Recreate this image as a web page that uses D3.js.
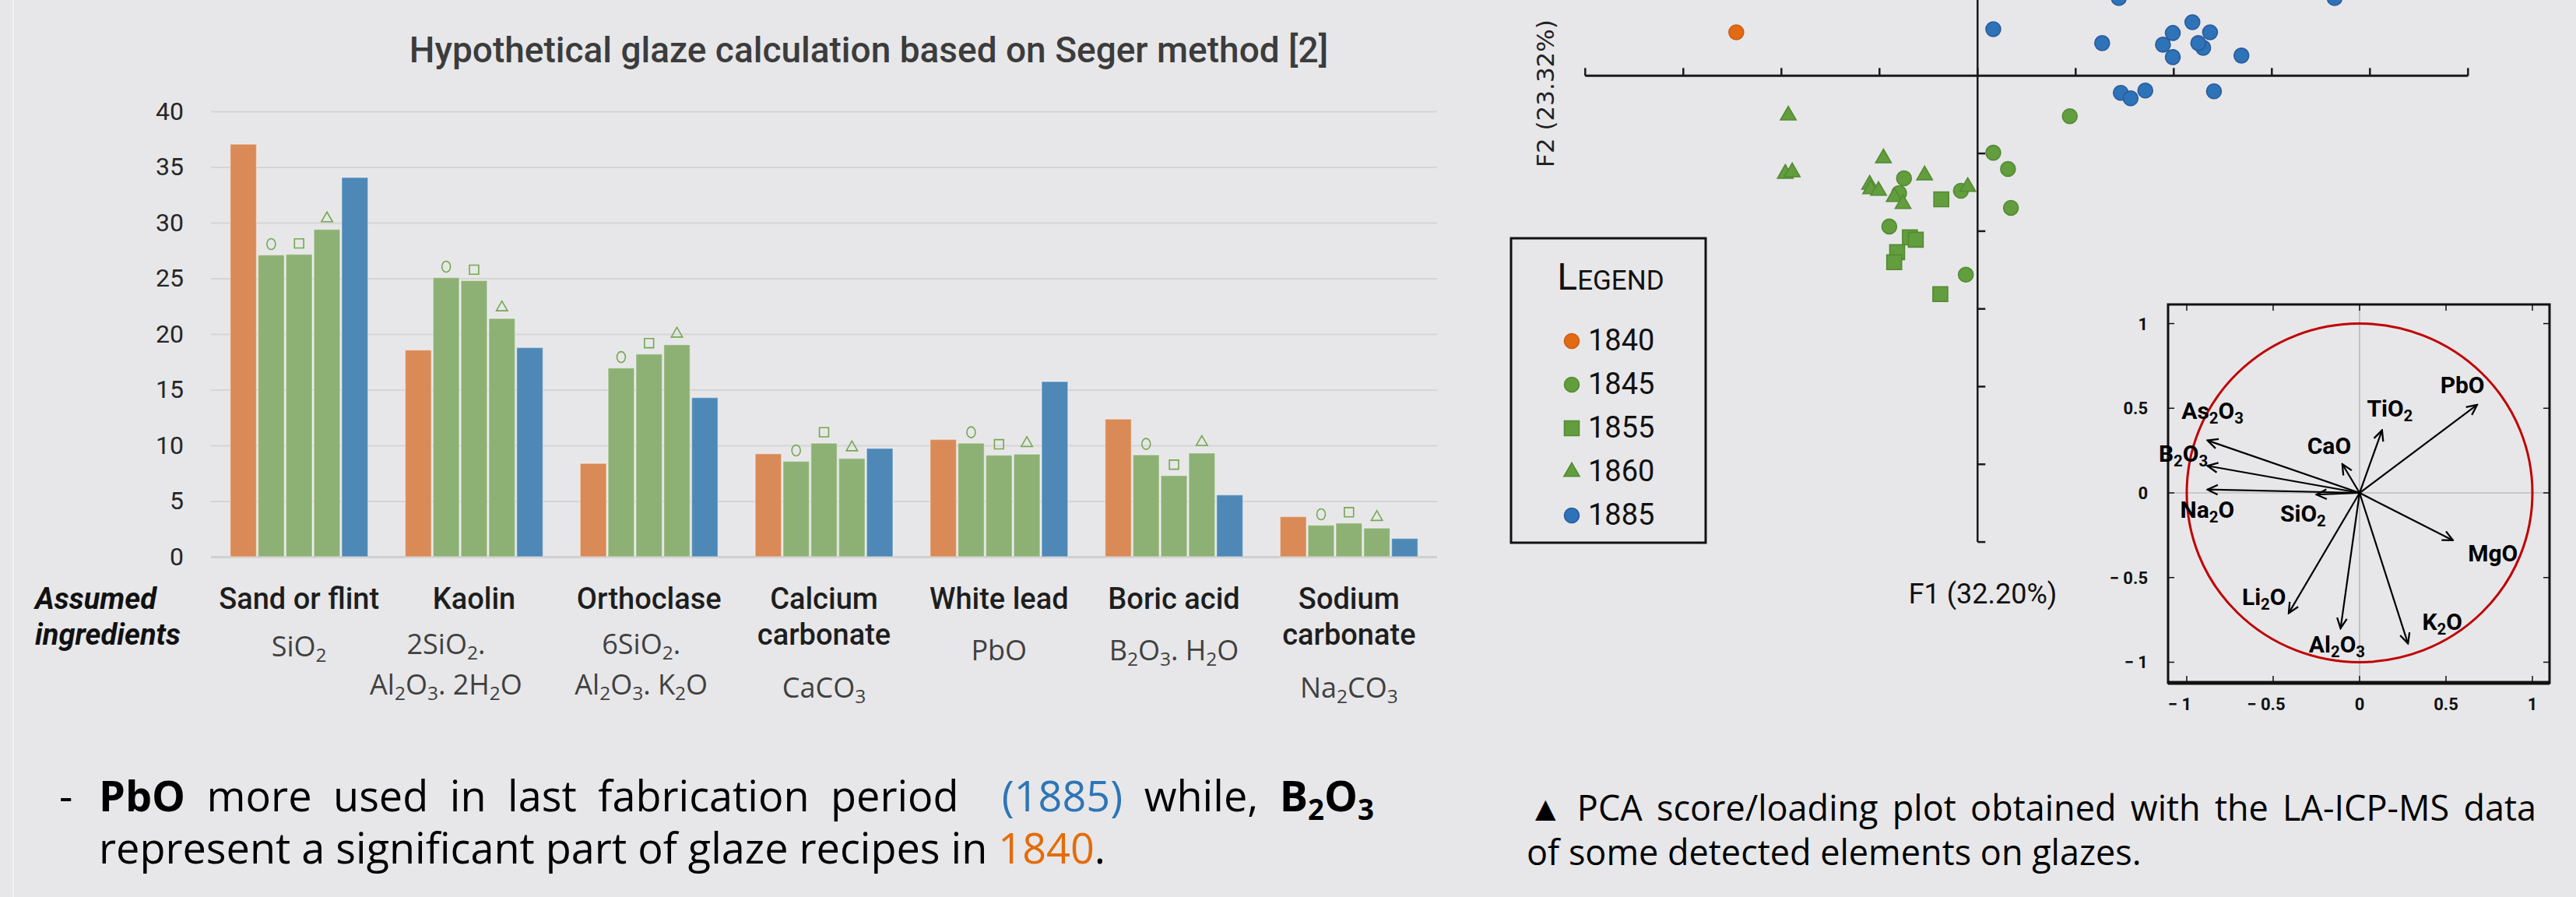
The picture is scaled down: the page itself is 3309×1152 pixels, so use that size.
<!DOCTYPE html>
<html>
<head>
<meta charset="utf-8">
<script src="https://cdn.jsdelivr.net/npm/d3@7"></script>
<style>
  body { margin: 0; background: #E7E7E9; }
  svg { display: block; }
</style>
</head>
<body>
<div id="chart"></div>
<script>
// ---- data: bar chart (Seger calculation) ----
var categories = ["Sand or flint", "Kaolin", "Orthoclase", "Calcium carbonate", "White lead", "Boric acid", "Sodium carbonate"];
var nameLines = [["Sand or flint"], ["Kaolin"], ["Orthoclase"], ["Calcium", "carbonate"], ["White lead"], ["Boric acid"], ["Sodium", "carbonate"]];
var formulas = [["SiO_2"], ["2SiO_2.", "Al_2O_3. 2H_2O"], ["6SiO_2.", "Al_2O_3. K_2O"], ["CaCO_3"], ["PbO"], ["B_2O_3. H_2O"], ["Na_2CO_3"]];
var years = ["1840", "1845", "1855", "1860", "1885"];
var v1840 = [37.05, 18.56, 8.38, 9.25, 10.53, 12.36, 3.6];
var v1845 = [27.1, 25.07, 16.95, 8.57, 10.2, 9.15, 2.83];
var v1855 = [27.16, 24.8, 18.2, 10.2, 9.12, 7.29, 3.02];
var v1860 = [29.4, 21.4, 19.04, 8.83, 9.21, 9.31, 2.57];
var v1885 = [34.06, 18.78, 14.29, 9.73, 15.73, 5.55, 1.64];
var yTicks = [0, 5, 10, 15, 20, 25, 30, 35, 40];

// ---- data: PCA scores (F1, F2) ----
var pts1840 = [[-2.46, 0.56]];
var pts1845 = [[0.94, -0.52], [0.16, -0.99], [0.31, -1.2], [-0.75, -1.32], [-0.8, -1.51], [-0.17, -1.48], [-0.9, -1.94], [0.34, -1.7], [-0.12, -2.56]];
var pts1855 = [[-0.37, -1.59], [-0.69, -2.08], [-0.63, -2.11], [-0.82, -2.27], [-0.85, -2.4], [-0.38, -2.81]];
var pts1860 = [[-1.93, -0.51], [-1.96, -1.26], [-1.89, -1.24], [-0.96, -1.06], [-0.54, -1.28], [-1.1, -1.4], [-1.09, -1.46], [-1.01, -1.48], [-0.85, -1.56], [-0.76, -1.65], [-0.1, -1.43]];
var pts1885 = [[0.16, 0.6], [1.44, 1.0], [3.64, 1.0], [1.27, 0.42], [1.99, 0.55], [2.19, 0.69], [2.37, 0.56], [1.89, 0.4], [1.99, 0.24], [2.3, 0.36], [2.25, 0.42], [2.69, 0.26], [1.46, -0.22], [1.56, -0.29], [1.71, -0.19], [2.41, -0.2]];

// ---- data: PCA loadings ----
var loadNames = ["PbO", "TiO_2", "CaO", "As_2O_3", "B_2O_3", "Na_2O", "SiO_2", "MgO", "Li_2O", "Al_2O_3", "K_2O"];
var loadF1 = [0.68, 0.13, -0.1, -0.88, -0.88, -0.88, -0.25, 0.54, -0.41, -0.11, 0.28];
var loadF2 = [0.52, 0.37, 0.17, 0.31, 0.16, 0.02, -0.01, -0.28, -0.71, -0.8, -0.89];
var loadTicks = [-1, -0.5, 0, 0.5, 1];
var loadTickLabels = ["\u2212 1", "\u2212 0.5", "0", "0.5", "1"];
// label anchors for the loading vectors (same units as loadings)
var labelF1 = [0.595, 0.175, -0.176, -0.851, -1.02, -0.881, -0.327, 0.771, -0.553, -0.131, 0.478];
var labelF2 = [0.589, 0.451, 0.228, 0.435, 0.185, -0.145, -0.17, -0.403, -0.662, -0.944, -0.811];

var DIN = "Roboto, 'Noto Sans', sans-serif";
var SEGOE = "'Open Sans', 'Noto Sans', sans-serif";

var svg = d3.select("#chart").append("svg")
    .attr("width", 3309)
    .attr("height", 1152)
    .style("background", "#E7E7E9");

// text with chemical subscripts: "Al_2O_3" -> Al2O3
function chem(t, s, fs) {
  var parts = s.split(/(_\d)/);
  var sub = false;
  parts.forEach(function(p) {
    if (!p) return;
    if (p[0] === "_") {
      t.append("tspan").attr("dy", sub ? 0 : fs * 0.2).attr("font-size", fs * 0.68).text(p.slice(1));
      sub = true;
    } else {
      t.append("tspan").attr("dy", sub ? -fs * 0.2 : 0).text(p);
      sub = false;
    }
  });
  return t;
}

// slide edge
svg.append("line").attr("x1", 17).attr("x2", 17).attr("y1", 0).attr("y2", 1152)
    .attr("stroke", "#F3F3F4").attr("stroke-width", 2);

// ================= BAR CHART =================
var bar_x = d3.scaleBand().domain(categories).range([271, 1846]).paddingInner(0.213).paddingOuter(0.11);
var bar_x1 = d3.scaleBand().domain(years).range([0, bar_x.bandwidth()]).paddingInner(0.06);
var bar_y = d3.scaleLinear().domain([0, 40]).range([715, 143]);
var bar_color = d3.scaleOrdinal().domain(years).range(["#D98A56", "#8DB174", "#8DB174", "#8DB174", "#4E88B6"]);
var series = [v1840, v1845, v1855, v1860, v1885];

svg.append("text")
    .attr("x", 1116).attr("y", 80)
    .attr("text-anchor", "middle")
    .attr("font-family", DIN).attr("font-size", 46).attr("font-weight", 500)
    .attr("fill", "#3C3C3C")
    .text("Hypothetical glaze calculation based on Seger method [2]");

var gy = svg.append("g")
    .attr("transform", "translate(271,0)")
    .call(d3.axisLeft(bar_y).tickValues(yTicks).tickSize(-(1846 - 271)).tickPadding(35));
gy.select(".domain").remove();
gy.selectAll(".tick line").attr("stroke", "#D5D5D7").attr("stroke-width", 2);
gy.selectAll(".tick").filter(function(d) { return d === 0; }).select("line")
    .attr("stroke", "#CFCFD1").attr("stroke-width", 3);
gy.selectAll(".tick text").attr("font-family", DIN).attr("font-size", 32).attr("fill", "#262626");

var rows = categories.map(function(c, i) {
  return { cat: c, vals: years.map(function(y, k) { return { year: y, value: series[k][i] }; }) };
});

var groups = svg.append("g").selectAll("g")
    .data(rows)
  .enter().append("g")
    .attr("transform", function(d) { return "translate(" + bar_x(d.cat) + ",0)"; });

groups.selectAll("rect")
    .data(function(d) { return d.vals; })
  .enter().append("rect")
    .attr("x", function(d) { return bar_x1(d.year); })
    .attr("y", function(d) { return bar_y(d.value); })
    .attr("width", bar_x1.bandwidth())
    .attr("height", function(d) { return bar_y(0) - bar_y(d.value); })
    .attr("fill", function(d) { return bar_color(d.year); })
    .attr("stroke", "rgba(255,255,255,0.35)")
    .attr("stroke-width", 1.5);

// hollow symbols above the green bars
var markShape = { "1845": "circle", "1855": "square", "1860": "triangle" };
groups.selectAll(".mk")
    .data(function(d) { return d.vals.filter(function(v) { return markShape[v.year]; }); })
  .enter().append("path")
    .attr("class", "mk")
    .attr("transform", function(d) {
      var cx = bar_x1(d.year) + bar_x1.bandwidth() / 2;
      return "translate(" + cx + "," + (bar_y(d.value) - 14) + ")";
    })
    .attr("d", function(d) {
      var s = markShape[d.year];
      if (s === "circle") return "M0,-7 A5.5,7 0 1,1 0,7 A5.5,7 0 1,1 0,-7Z";
      if (s === "square") return d3.symbol(d3.symbolSquare, 140)();
      return d3.symbol(d3.symbolTriangle, 90)();
    })
    .attr("fill", "none")
    .attr("stroke", "#74A84E")
    .attr("stroke-width", 1.6);

// category labels
var labels = svg.append("g").selectAll("g")
    .data(categories)
  .enter().append("g")
    .attr("transform", function(d) { return "translate(" + (bar_x(d) + bar_x.bandwidth() / 2) + ",0)"; });

labels.each(function(d, i) {
  var g = d3.select(this);
  nameLines[i].forEach(function(line, k) {
    g.append("text")
        .attr("y", 782 + k * 46)
        .attr("text-anchor", "middle")
        .attr("font-family", DIN).attr("font-size", 38).attr("font-weight", 500)
        .attr("fill", "#1E1E1E")
        .text(line);
  });
  var f = formulas[i];
  var base;
  if (nameLines[i].length > 1) base = [896];
  else if (f.length > 1) base = [840, 892];
  else base = [i === 0 ? 843 : 848];
  // wrapped formulas sit a little left of the band centre
  var dx = f.length > 1 ? (i === 1 ? -36 : -10) : 0;
  f.forEach(function(line, k) {
    var t = g.append("text")
        .attr("x", dx)
        .attr("y", base[k])
        .attr("text-anchor", "middle")
        .attr("font-family", SEGOE).attr("font-size", 36)
        .attr("fill", "#404040");
    chem(t, line, 36);
  });
});

svg.append("text")
    .attr("x", 45).attr("y", 782)
    .attr("font-family", DIN).attr("font-size", 38)
    .attr("font-weight", 700).attr("font-style", "italic")
    .attr("fill", "#111")
    .text("Assumed");
svg.append("text")
    .attr("x", 45).attr("y", 828)
    .attr("font-family", DIN).attr("font-size", 38)
    .attr("font-weight", 700).attr("font-style", "italic")
    .attr("fill", "#111")
    .text("ingredients");

// ================= BODY TEXT =================
function justifyLine(words, gaps, x0, x1, y, fs) {
  var nodes = words.map(function(w) {
    var t = svg.append("text")
        .attr("y", y)
        .attr("font-family", SEGOE).attr("font-size", fs)
        .attr("font-weight", w.bold ? 700 : 400)
        .attr("fill", w.color || "#000");
    chem(t, w.text, fs);
    return t;
  });
  var widths = nodes.map(function(t) { return t.node().getComputedTextLength(); });
  var unit = (x1 - x0 - d3.sum(widths)) / d3.sum(gaps);
  var x = x0;
  nodes.forEach(function(t, i) {
    t.attr("x", x);
    x += widths[i] + (i < gaps.length ? gaps[i] * unit : 0);
  });
}

svg.append("text")
    .attr("x", 76).attr("y", 1042)
    .attr("font-family", SEGOE).attr("font-size", 54)
    .text("-");

justifyLine([
  { text: "PbO", bold: true }, { text: "more" }, { text: "used" }, { text: "in" }, { text: "last" },
  { text: "fabrication" }, { text: "period" }, { text: "(1885)", color: "#2E75B6" }, { text: "while," },
  { text: "B_2O_3", bold: true }
], [1, 1, 1, 1, 1, 1, 2, 1, 1], 127, 1765, 1042, 54);

var l2 = svg.append("text")
    .attr("x", 127).attr("y", 1109)
    .attr("font-family", SEGOE).attr("font-size", 54)
    .attr("fill", "#000");
l2.append("tspan").text("represent a significant part of glaze recipes in ");
l2.append("tspan").attr("fill", "#E46C0A").text("1840");
l2.append("tspan").text(".");

justifyLine([
  { text: "\u25B2" }, { text: "PCA" }, { text: "score/loading" }, { text: "plot" }, { text: "obtained" },
  { text: "with" }, { text: "the" }, { text: "LA-ICP-MS" }, { text: "data" }
], [1, 1, 1, 1, 1, 1, 1, 1], 1963, 3258, 1054, 45);

svg.append("text")
    .attr("x", 1961).attr("y", 1111)
    .attr("font-family", SEGOE).attr("font-size", 45)
    .attr("fill", "#000")
    .text("of some detected elements on glazes.");

// ================= PCA SCORE PLOT =================
var sc_x = d3.scaleLinear().domain([-4, 5]).range([2036.3, 3170.3]);
var sc_y = d3.scaleLinear().domain([-6, 0.975]).range([696.1, 0]);
var axisCol = "#1A1A1A";

var sc = svg.append("g");
sc.append("line")
    .attr("x1", sc_x(-4)).attr("x2", sc_x(5))
    .attr("y1", sc_y(0)).attr("y2", sc_y(0))
    .attr("stroke", axisCol).attr("stroke-width", 3);
sc.append("line")
    .attr("x1", sc_x(0)).attr("x2", sc_x(0))
    .attr("y1", 0).attr("y2", sc_y(-6))
    .attr("stroke", axisCol).attr("stroke-width", 2.5);
sc.selectAll(".xt")
    .data(d3.range(-4, 6))
  .enter().append("line")
    .attr("x1", function(d) { return sc_x(d); }).attr("x2", function(d) { return sc_x(d); })
    .attr("y1", sc_y(0)).attr("y2", sc_y(0) - 10)
    .attr("stroke", axisCol).attr("stroke-width", 2.5);
sc.selectAll(".yt")
    .data(d3.range(-6, 0))
  .enter().append("line")
    .attr("x1", sc_x(0)).attr("x2", sc_x(0) + 10)
    .attr("y1", function(d) { return sc_y(d); }).attr("y2", function(d) { return sc_y(d); })
    .attr("stroke", axisCol).attr("stroke-width", 2.5);

svg.append("text")
    .attr("transform", "translate(1996,120) rotate(-90)")
    .attr("text-anchor", "middle")
    .attr("font-family", "'DejaVu Sans', sans-serif").attr("font-size", 31)
    .attr("fill", "#222")
    .text("F2 (23.32%)");
svg.append("text")
    .attr("x", 2547).attr("y", 775)
    .attr("text-anchor", "middle")
    .attr("font-family", DIN).attr("font-size", 36)
    .attr("fill", "#111")
    .text("F1 (32.20%)");

var styles = [
  { name: "1840", pts: pts1840, shape: d3.symbolCircle, size: 283, fill: "#E26A14", stroke: "#CC5E12" },
  { name: "1845", pts: pts1845, shape: d3.symbolCircle, size: 283, fill: "#629D3E", stroke: "#548A33" },
  { name: "1855", pts: pts1855, shape: d3.symbolSquare, size: 361, fill: "#629D3E", stroke: "#548A33" },
  { name: "1860", pts: pts1860, shape: d3.symbolTriangle, size: 175, fill: "#629D3E", stroke: "#548A33" },
  { name: "1885", pts: pts1885, shape: d3.symbolCircle, size: 283, fill: "#2E73B8", stroke: "#2A5A9C" }
];

styles.forEach(function(s) {
  sc.append("g").selectAll("path")
      .data(s.pts)
    .enter().append("path")
      .attr("transform", function(d) { return "translate(" + sc_x(d[0]) + "," + sc_y(d[1]) + ")"; })
      .attr("d", d3.symbol(s.shape, s.size))
      .attr("fill", s.fill)
      .attr("stroke", s.stroke)
      .attr("stroke-width", 1.6);
});

// legend
var lg = svg.append("g");
lg.append("rect")
    .attr("x", 1941).attr("y", 306).attr("width", 250).attr("height", 391)
    .attr("fill", "none").attr("stroke", "#111").attr("stroke-width", 3);
var lt = lg.append("text")
    .attr("x", 2069).attr("y", 372)
    .attr("text-anchor", "middle")
    .attr("font-family", DIN).attr("fill", "#111");
lt.append("tspan").attr("font-size", 48).text("L");
lt.append("tspan").attr("font-size", 35).text("EGEND");

var li = lg.selectAll(".li")
    .data(styles)
  .enter().append("g")
    .attr("transform", function(d, i) { return "translate(2019," + (438 + i * 56) + ")"; });
li.append("path")
    .attr("d", function(d) { return d3.symbol(d.shape, d.size)(); })
    .attr("fill", function(d) { return d.fill; })
    .attr("stroke", function(d) { return d.stroke; })
    .attr("stroke-width", 1.6);
li.append("text")
    .attr("x", 21).attr("y", 12)
    .attr("font-family", DIN).attr("font-size", 38)
    .attr("fill", "#111")
    .text(function(d) { return d.name; });

// ================= PCA LOADING PLOT =================
var ld_x = d3.scaleLinear().domain([-1.108, 1.099]).range([2785, 3275]);
var ld_y = d3.scaleLinear().domain([-1.122, 1.113]).range([877, 391]);

var ld = svg.append("g");
ld.append("line")
    .attr("x1", ld_x(0)).attr("x2", ld_x(0)).attr("y1", 391).attr("y2", 877)
    .attr("stroke", "#AAAAAA").attr("stroke-width", 1.2);
ld.append("line")
    .attr("x1", 2785).attr("x2", 3275).attr("y1", ld_y(0)).attr("y2", ld_y(0))
    .attr("stroke", "#AAAAAA").attr("stroke-width", 1.2);

ld.append("ellipse")
    .attr("cx", ld_x(0)).attr("cy", ld_y(0))
    .attr("rx", ld_x(1) - ld_x(0)).attr("ry", ld_y(0) - ld_y(1))
    .attr("fill", "none").attr("stroke", "#C00000").attr("stroke-width", 3);

ld.append("rect")
    .attr("x", 2785).attr("y", 391).attr("width", 490).attr("height", 486)
    .attr("fill", "none").attr("stroke", "#111").attr("stroke-width", 3);
ld.append("line")
    .attr("x1", 2785).attr("x2", 3275).attr("y1", 877).attr("y2", 877)
    .attr("stroke", "#111").attr("stroke-width", 5);

loadTicks.forEach(function(t) {
  ld.append("line").attr("x1", ld_x(t)).attr("x2", ld_x(t)).attr("y1", 391).attr("y2", 399)
      .attr("stroke", "#111").attr("stroke-width", 1.5);
  ld.append("line").attr("x1", ld_x(t)).attr("x2", ld_x(t)).attr("y1", 877).attr("y2", 868)
      .attr("stroke", "#111").attr("stroke-width", 1.5);
  ld.append("line").attr("x1", 2785).attr("x2", 2793).attr("y1", ld_y(t)).attr("y2", ld_y(t))
      .attr("stroke", "#111").attr("stroke-width", 1.5);
  ld.append("line").attr("x1", 3275).attr("x2", 3267).attr("y1", ld_y(t)).attr("y2", ld_y(t))
      .attr("stroke", "#111").attr("stroke-width", 1.5);
});

ld.selectAll(".ylab")
    .data(loadTicks)
  .enter().append("text")
    .attr("x", 2759).attr("y", function(d) { return ld_y(d) + 8; })
    .attr("text-anchor", "end")
    .attr("font-family", DIN).attr("font-size", 22).attr("font-weight", 700)
    .attr("fill", "#111")
    .text(function(d, i) { return loadTickLabels[i]; });
ld.selectAll(".xlab")
    .data(loadTicks)
  .enter().append("text")
    .attr("x", function(d) { return ld_x(d) - (d < 0 ? 9 : 0); })
    .attr("y", 912)
    .attr("text-anchor", "middle")
    .attr("font-family", DIN).attr("font-size", 22).attr("font-weight", 700)
    .attr("fill", "#111")
    .text(function(d, i) { return loadTickLabels[i]; });

svg.append("defs").append("marker")
    .attr("id", "arr")
    .attr("viewBox", "0 0 14 14")
    .attr("refX", 12.5).attr("refY", 7)
    .attr("markerWidth", 16).attr("markerHeight", 16)
    .attr("markerUnits", "userSpaceOnUse")
    .attr("orient", "auto")
  .append("path")
    .attr("d", "M1,1.5 L12.5,7 L1,12.5")
    .attr("fill", "none").attr("stroke", "#000").attr("stroke-width", 2);

ld.selectAll(".vec")
    .data(loadNames)
  .enter().append("line")
    .attr("x1", ld_x(0)).attr("y1", ld_y(0))
    .attr("x2", function(d, i) { return ld_x(loadF1[i]); })
    .attr("y2", function(d, i) { return ld_y(loadF2[i]); })
    .attr("stroke", "#000").attr("stroke-width", 2.2)
    .attr("marker-end", "url(#arr)");

loadNames.forEach(function(n, i) {
  var t = ld.append("text")
      .attr("x", ld_x(labelF1[i])).attr("y", ld_y(labelF2[i]))
      .attr("text-anchor", "middle")
      .attr("font-family", DIN).attr("font-size", 30).attr("font-weight", 700)
      .attr("fill", "#000");
  chem(t, n, 30);
});
</script>
</body>
</html>
